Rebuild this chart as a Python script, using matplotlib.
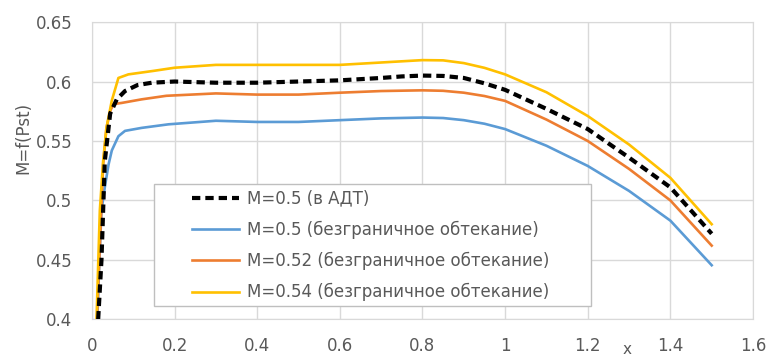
import matplotlib
matplotlib.use("Agg")
import matplotlib.pyplot as plt
from matplotlib.patches import Rectangle

# M=0.5 в АДТ
x_adt = [0.015, 0.023, 0.031, 0.044, 0.06, 0.08, 0.11, 0.145, 0.2, 0.3, 0.4, 0.5, 0.6, 0.7,
         0.75, 0.8, 0.85, 0.9, 0.95, 1.0, 1.1, 1.2, 1.3, 1.4, 1.5]
y_adt = [0.4, 0.45, 0.533, 0.573, 0.585, 0.592, 0.597, 0.599, 0.6, 0.599, 0.599, 0.6, 0.601, 0.603,
         0.6043, 0.605, 0.6047, 0.603, 0.5985, 0.593, 0.577, 0.56, 0.536, 0.511, 0.472]

# безграничное обтекание
x_050 = [0.013, 0.018, 0.023, 0.031, 0.04, 0.048, 0.064, 0.08, 0.12, 0.185, 0.3, 0.4, 0.5, 0.6, 0.7,
         0.8, 0.85, 0.9, 0.95, 1.0, 1.1, 1.2, 1.3, 1.4, 1.5]
y_050 = [0.4, 0.45, 0.4915, 0.511, 0.53, 0.542, 0.554, 0.5585, 0.561, 0.564, 0.567, 0.566, 0.566, 0.5675,
         0.569, 0.5697, 0.5693, 0.5675, 0.5645, 0.56, 0.546, 0.529, 0.508, 0.483, 0.4455]

x_052 = [0.012, 0.02, 0.027, 0.035, 0.045, 0.052, 0.072, 0.12, 0.18, 0.3, 0.4, 0.5, 0.6, 0.7,
         0.8, 0.85, 0.9, 0.95, 1.0, 1.1, 1.2, 1.3, 1.4, 1.5]
y_052 = [0.4, 0.47, 0.53, 0.561, 0.576, 0.581, 0.582, 0.585, 0.588, 0.59, 0.589, 0.589, 0.5906, 0.592,
         0.5926, 0.5922, 0.5906, 0.5878, 0.5837, 0.568, 0.55, 0.5265, 0.5, 0.462]

x_054 = [0.011, 0.019, 0.027, 0.035, 0.048, 0.064, 0.088, 0.15, 0.2, 0.3, 0.4, 0.5, 0.6, 0.7,
         0.8, 0.85, 0.9, 0.95, 1.0, 1.1, 1.2, 1.3, 1.4, 1.5]
y_054 = [0.4, 0.4915, 0.533, 0.561, 0.584, 0.603, 0.606, 0.609, 0.6116, 0.614, 0.614, 0.614, 0.614, 0.616,
         0.618, 0.6178, 0.6155, 0.6115, 0.606, 0.591, 0.571, 0.547, 0.519, 0.48]

labels = ["M=0.5 (в АДТ)",
          "M=0.5 (безграничное обтекание)",
          "M=0.52 (безграничное обтекание)",
          "M=0.54 (безграничное обтекание)"]

xticks = [0, 0.2, 0.4, 0.6, 0.8, 1, 1.2, 1.4, 1.6]
xtick_labels = ["0", "0.2", "0.4", "0.6", "0.8", "1", "1.2", "1.4", "1.6"]
yticks = [0.4, 0.45, 0.5, 0.55, 0.6, 0.65]
ytick_labels = ["0.4", "0.45", "0.5", "0.55", "0.6", "0.65"]

plt.rcParams['font.family'] = ['DejaVu Sans']
txt = '#595959'
grid = '#d9d9d9'

fig = plt.figure(figsize=(7.69, 3.56), dpi=100)
ax = fig.add_axes([0.1196, 0.103, 0.8596, 0.835])

ax.plot(x_adt, y_adt, color='black', lw=3, linestyle=(0, (2.0, 1.2)), label=labels[0], zorder=5)
ax.plot(x_050, y_050, color='#5B9BD5', lw=1.9, label=labels[1])
ax.plot(x_052, y_052, color='#ED7D31', lw=1.9, label=labels[2])
ax.plot(x_054, y_054, color='#FFC000', lw=1.9, label=labels[3])

ax.set_xlim(0, 1.6)
ax.set_ylim(0.4, 0.65)
ax.set_xticks(xticks)
ax.set_xticklabels(xtick_labels)
ax.set_yticks(yticks)
ax.set_yticklabels(ytick_labels)
ax.tick_params(length=0, labelsize=12, colors=txt)
ax.tick_params(axis='x', pad=13)
ax.tick_params(axis='y', pad=14)
ax.grid(True, color=grid, lw=1)
ax.set_axisbelow(True)
for s in ax.spines.values():
    s.set_color(grid)

ax.set_ylabel("M=f(Pst)", fontsize=12, color=txt)
ax.yaxis.set_label_coords(-0.09, 0.61)
ax.set_xlabel("x", fontsize=11, color=txt)
ax.xaxis.set_label_coords(0.81, -0.075)

# legend box drawn separately (Excel style padding)
box = Rectangle((0.0938, 0.0447), 0.661, 0.41, transform=ax.transAxes,
                facecolor='white', edgecolor='#bfbfbf', lw=1, zorder=9)
ax.add_patch(box)
leg = ax.legend(loc='center left', bbox_to_anchor=(0.151, 0.248), borderaxespad=0,
                borderpad=0, frameon=False, fontsize=12,
                handlelength=2.85, handletextpad=0.45, labelspacing=0.78,
                labelcolor=txt)
leg.set_zorder(10)

plt.savefig("out.png", dpi=100)
